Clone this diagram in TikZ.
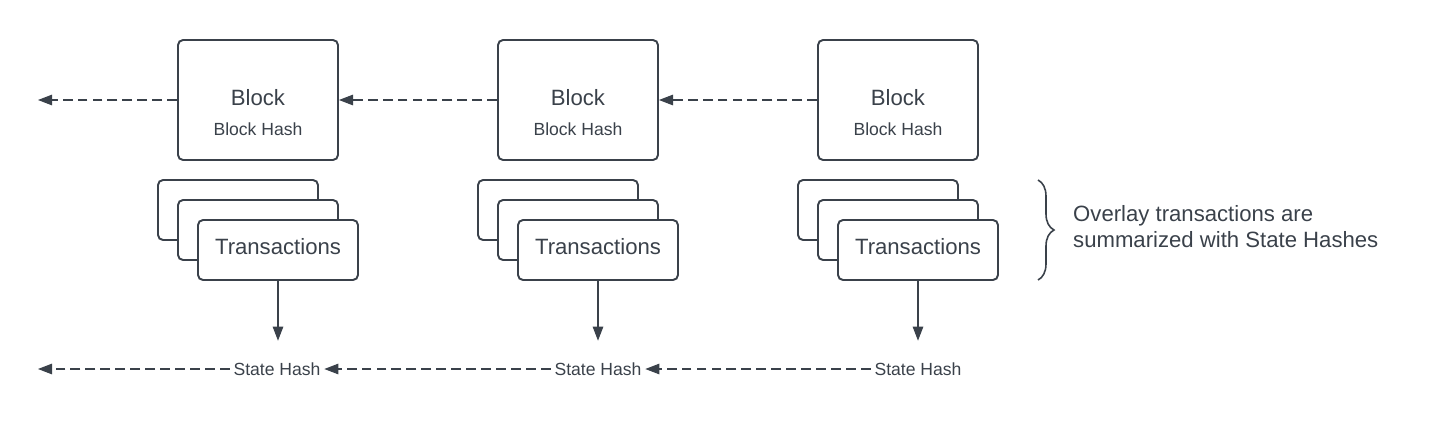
\documentclass[tikz,border=0pt]{standalone}
\usepackage{fontspec}
\setmainfont{Liberation Sans}
\usepackage{tikz}
\usetikzlibrary{arrows.meta}
\usetikzlibrary{decorations.pathreplacing}
\definecolor{inkgray}{HTML}{3A414A}
\newcommand{\txcard}[3]{\node[card] (#1) at ( #2 , #3 ) {};}
\tikzset{
  blockbox/.style={draw=inkgray, line width=1.1pt, rounded corners=0.1cm, fill=white, minimum width=3.2cm, minimum height=2.4cm},
  card/.style={draw=inkgray, line width=1.1pt, rounded corners=0.1cm, fill=white, minimum width=3.2cm, minimum height=1.2cm},
  bigtext/.style={text=inkgray, font=\fontsize{12.6}{14}\selectfont},
  smalltext/.style={text=inkgray, font=\fontsize{10}{12}\selectfont, inner sep=2pt},
  linkarrow/.style={draw=inkgray, line width=0.6pt, dash pattern=on 5.6pt off 2.9pt, -{Triangle[length=8pt,width=6pt]}},
  feedarrow/.style={draw=inkgray, line width=0.6pt, -{Triangle[length=8pt,width=6pt]}}
}
\begin{document}
\begin{tikzpicture}[x=0.02cm, y=-0.02cm]
    \useasboundingbox (0,0) rectangle (1438,440);
    % blocks
    \node[blockbox] (blkA) at (258,100) {};
    \node[blockbox] (blkB) at (578,100) {};
    \node[blockbox] (blkC) at (898,100) {};
    \node[bigtext] (blkAname) at (258,98) {Block};
    \node[bigtext] (blkBname) at (578,98) {Block};
    \node[bigtext] (blkCname) at (898,98) {Block};
    \node[smalltext] (blkAhash) at (258,129) {Block Hash};
    \node[smalltext] (blkBhash) at (578,129) {Block Hash};
    \node[smalltext] (blkChash) at (898,129) {Block Hash};
    % transaction stacks
    \txcard{txAback}{238}{210} \txcard{txAmid}{258}{230} \txcard{txA}{278}{250}
    \txcard{txBback}{558}{210} \txcard{txBmid}{578}{230} \txcard{txB}{598}{250}
    \txcard{txCback}{878}{210} \txcard{txCmid}{898}{230} \txcard{txC}{918}{250}
    \node[bigtext] (txAname) at (278,247) {Transactions};
    \node[bigtext] (txBname) at (598,247) {Transactions};
    \node[bigtext] (txCname) at (918,247) {Transactions};
    % state hashes
    \node[smalltext] (shA) at (277,369) {State Hash};
    \node[smalltext] (shB) at (598,369) {State Hash};
    \node[smalltext] (shC) at (918,369) {State Hash};
    \coordinate (blkEnd) at (38,100);
    \coordinate (shEnd) at (38,369);
    % chain links
    \draw[linkarrow] (blkA.west) -- (blkEnd);
    \draw[linkarrow] (blkB.west) -- (blkA.east);
    \draw[linkarrow] (blkC.west) -- (blkB.east);
    \draw[linkarrow] (shA.west) -- (shEnd);
    \draw[linkarrow] (shB.west) -- (shA.east);
    \draw[linkarrow] (shC.west) -- (shB.east);
    \draw[feedarrow, shorten >=0.36cm] (txA.south) -- (txA.south |- shA.north);
    \draw[feedarrow, shorten >=0.36cm] (txB.south) -- (txB.south |- shB.north);
    \draw[feedarrow, shorten >=0.36cm] (txC.south) -- (txC.south |- shC.north);
    % note
    \coordinate (braceTop) at (1038,180);
    \coordinate (braceBot) at (1038,280);
    \draw[inkgray, line width=0.9pt, decorate, decoration={brace, amplitude=0.32cm}] (braceTop) -- (braceBot);
    \node[bigtext, anchor=west, align=left, font=\fontsize{12.6}{14.8}\selectfont] (note) at (1067,227) {Overlay transactions are\\summarized with State Hashes};
\end{tikzpicture}
\end{document}
